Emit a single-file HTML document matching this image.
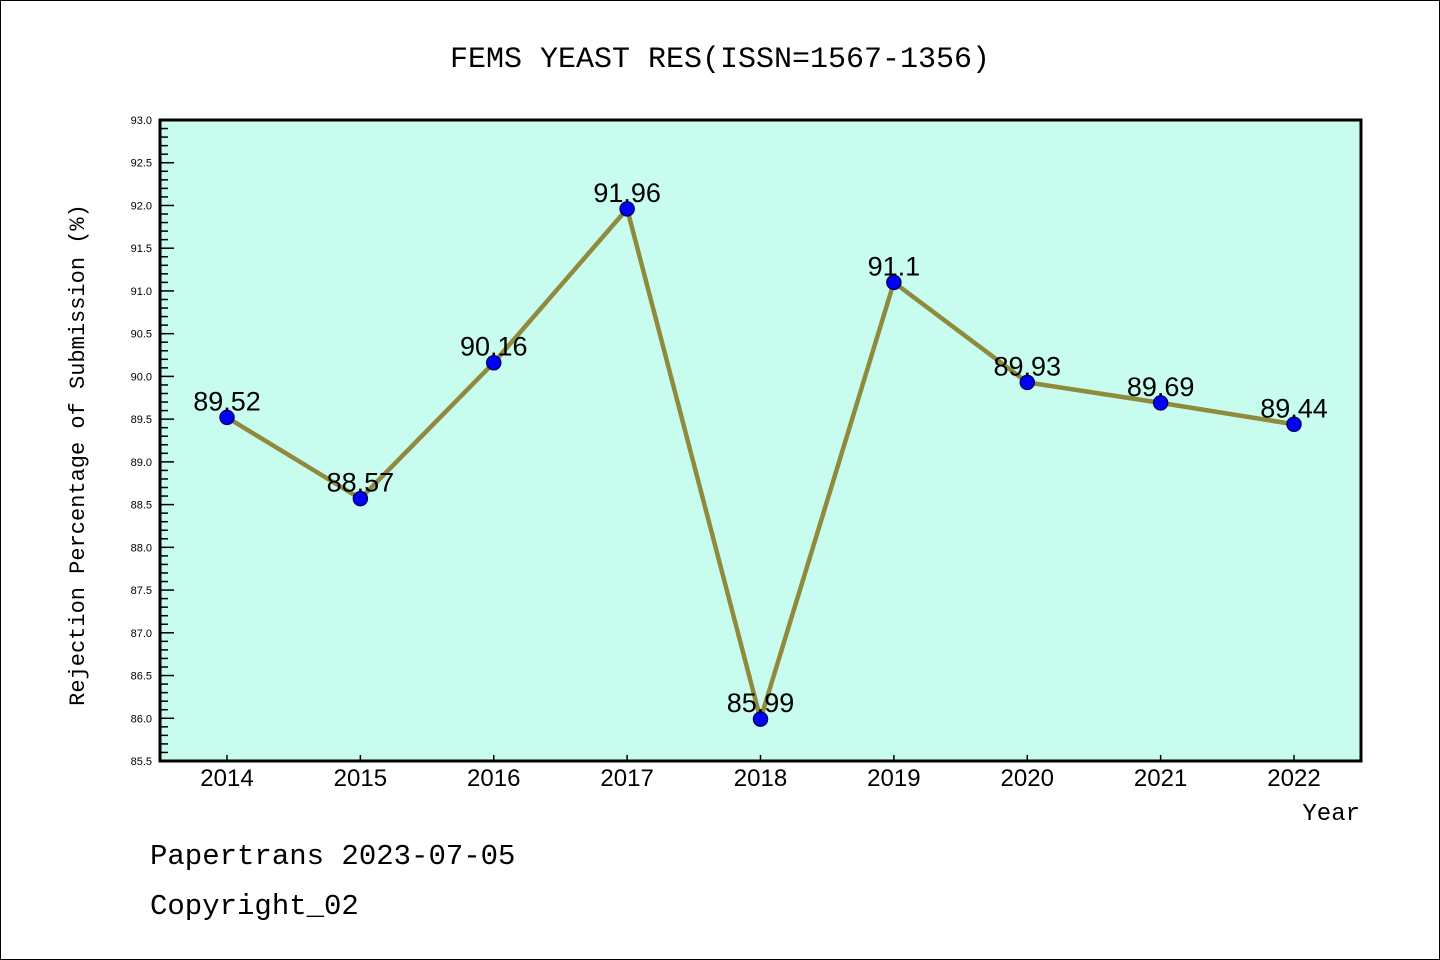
<!DOCTYPE html>
<html><head><meta charset="utf-8"><style>
html,body{margin:0;padding:0;background:#fff}
svg{display:block;font-family:"Liberation Mono","DejaVu Sans Mono",monospace}
</style></head><body>
<svg width="1440" height="960" viewBox="0 0 1440 960">
<rect x="0.5" y="0.5" width="1439" height="959" fill="#fff" stroke="#000" stroke-width="1"/>
<text x="720" y="67" text-anchor="middle" font-size="30">FEMS YEAST RES(ISSN=1567-1356)</text>
<rect x="160" y="120" width="1201" height="641" fill="#c8fcee"/>
<g id="axes"></g>
<g id="series"></g>
<rect x="160" y="120" width="1201" height="641" fill="none" stroke="#000" stroke-width="3"/>
<text x="84" y="455" transform="rotate(-90 84 455)" text-anchor="middle" font-size="22">Rejection Percentage of Submission (%)</text>
<text x="1360" y="820" text-anchor="end" font-size="24">Year</text>
<text x="150" y="864" font-size="29">Papertrans 2023-07-05</text>
<text x="150" y="914" font-size="29">Copyright_02</text>
</svg>
<script>
const years = [2014,2015,2016,2017,2018,2019,2020,2021,2022];
const values = [89.52,88.57,90.16,91.96,85.99,91.1,89.93,89.69,89.44];
const valueLabels = ["89.52","88.57","90.16","91.96","85.99","91.1","89.93","89.69","89.44"];
const yTicks = [85.5,86.0,86.5,87.0,87.5,88.0,88.5,89.0,89.5,90.0,90.5,91.0,91.5,92.0,92.5,93.0];
const NS="http://www.w3.org/2000/svg";
const yMin=85.5,yMax=93.0,plotTop=120,plotBot=761,plotLeft=160,plotRight=1361;
const x0=227,x1=1294;
function xs(i){return x0+(x1-x0)*i/(years.length-1);}
function ys(v){return plotBot-(v-yMin)/(yMax-yMin)*(plotBot-plotTop);}
function mk(t,a,p){const e=document.createElementNS(NS,t);for(const k in a)e.setAttribute(k,a[k]);p.appendChild(e);return e;}
const ax=document.getElementById('axes'),se=document.getElementById('series');
for(let k=0;k<=75;k++){const v=yMin+k*0.1;const y=ys(v);const major=k%5===0;
 const l=mk('line',{x1:plotLeft,x2:plotLeft+(major?14:8),y1:y,y2:y,stroke:'#000','stroke-width':1.5},ax);
 
 }
yTicks.forEach(v=>{const t=mk('text',{x:152,y:ys(v)+4,'text-anchor':'end','font-size':11,'font-family':'Liberation Sans,sans-serif'},ax);t.textContent=v.toFixed(1);
 
 });
years.forEach((yr,i)=>{const x=xs(i);
 const l=mk('line',{x1:x,x2:x,y1:plotBot,y2:plotBot-6,stroke:'#000','stroke-width':1.5},ax);
 
 
 const t=mk('text',{x:x,y:786,'text-anchor':'middle','font-size':24,'font-family':'Liberation Sans,sans-serif'},ax);t.textContent=yr;
 
 });
const pl=mk('polyline',{points:values.map((v,i)=>xs(i)+','+ys(v)).join(' '),fill:'none',stroke:'#8f8a3c','stroke-width':4.5,'stroke-linejoin':'round'},se);


values.forEach((v,i)=>{const c=mk('circle',{cx:xs(i),cy:ys(v),r:7,fill:'#0000ff',stroke:'#00006a','stroke-width':1.5},se);
 
 
 const t=mk('text',{x:xs(i),y:ys(v)-7,'text-anchor':'middle','font-size':27,'font-family':'Liberation Sans,sans-serif'},se);t.textContent=valueLabels[i];
 
 });
</script>
</body></html>
